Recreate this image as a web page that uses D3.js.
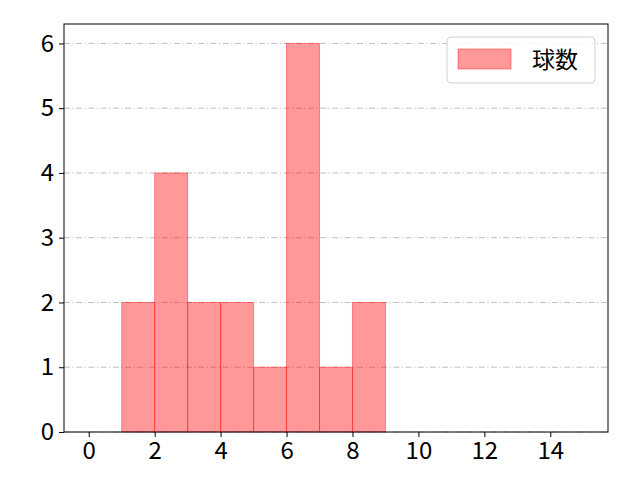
<!DOCTYPE html>
<html>
<head>
<meta charset="utf-8">
<script src="https://cdn.jsdelivr.net/npm/d3@7"></script>
<style>
  body { margin: 0; background: #fff; }
  text { font-family: "Noto Sans CJK JP", "Noto Sans", sans-serif; font-weight: 400; }
</style>
</head>
<body>
<div id="chart"></div>
<script>
// histogram bins (left edges) and counts
const binEdges = [0, 1, 2, 3, 4, 5, 6, 7, 8, 9, 10, 11, 12, 13, 14, 15];
const counts = [0, 2, 4, 2, 2, 1, 6, 1, 2, 0, 0, 0, 0, 0, 0];
const xTicks = [0, 2, 4, 6, 8, 10, 12, 14];
const yTicks = [0, 1, 2, 3, 4, 5, 6];
const seriesName = "球数";

const width = 640, height = 480;
const margin = { left: 64, right: 32, top: 24, bottom: 48 };

const svg = d3.select("#chart").append("svg")
  .attr("width", width)
  .attr("height", height);

const x = d3.scaleLinear().domain([-0.75, 15.75]).range([margin.left, width - margin.right]);
const y = d3.scaleLinear().domain([0, 6.3]).range([height - margin.bottom, margin.top]);

// Grid (y only, dash-dot)
svg.append("g")
  .selectAll("line")
  .data(yTicks)
  .join("line")
    .attr("x1", margin.left)
    .attr("x2", width - margin.right)
    .attr("y1", d => y(d))
    .attr("y2", d => y(d))
    .attr("stroke", "#b0b0b0")
    .attr("stroke-width", 0.8)
    .attr("stroke-dasharray", "6,2.5,1.2,2.5");

// Bars
const bins = counts.map((c, i) => ({ x0: binEdges[i], x1: binEdges[i + 1], n: c }));
svg.append("g")
  .selectAll("rect")
  .data(bins)
  .join("rect")
    .attr("x", d => x(d.x0))
    .attr("width", d => x(d.x1) - x(d.x0))
    .attr("y", d => y(d.n))
    .attr("height", d => y(0) - y(d.n))
    .attr("fill", "rgba(255,0,0,0.4)")
    .attr("stroke", "rgba(255,0,0,0.4)")
    .attr("stroke-width", 1);

// Axes
const xAxis = svg.append("g")
  .attr("transform", `translate(0,${height - margin.bottom})`)
  .call(d3.axisBottom(x).tickValues(xTicks).tickFormat(d3.format("d")).tickSize(5).tickPadding(5));
const yAxis = svg.append("g")
  .attr("transform", `translate(${margin.left},0)`)
  .call(d3.axisLeft(y).tickValues(yTicks).tickFormat(d3.format("d")).tickSize(5).tickPadding(5));

[xAxis, yAxis].forEach(a => {
  a.attr("font-size", null).attr("font-family", null);
  a.select(".domain").remove();
  a.selectAll("text").style("font-size", "24px").attr("fill", "#000");
  a.selectAll("line").attr("stroke", "#000");
});

// Frame
svg.append("rect")
  .attr("x", margin.left)
  .attr("y", margin.top)
  .attr("width", width - margin.left - margin.right)
  .attr("height", height - margin.top - margin.bottom)
  .attr("fill", "none")
  .attr("stroke", "#000")
  .attr("stroke-width", 1);

// Legend
const legend = svg.append("g").attr("transform", "translate(447,37)");
legend.append("rect")
  .attr("width", 148)
  .attr("height", 46)
  .attr("rx", 4)
  .attr("fill", "rgba(255,255,255,0.8)")
  .attr("stroke", "#d0d0d0");
legend.append("rect")
  .attr("x", 11)
  .attr("y", 12)
  .attr("width", 53)
  .attr("height", 20)
  .attr("fill", "rgba(255,0,0,0.4)")
  .attr("stroke", "rgba(255,0,0,0.4)");
legend.append("text")
  .attr("x", 85)
  .attr("y", 31)
  .style("font-size", "23px")
  .text(seriesName);
</script>
</body>
</html>
